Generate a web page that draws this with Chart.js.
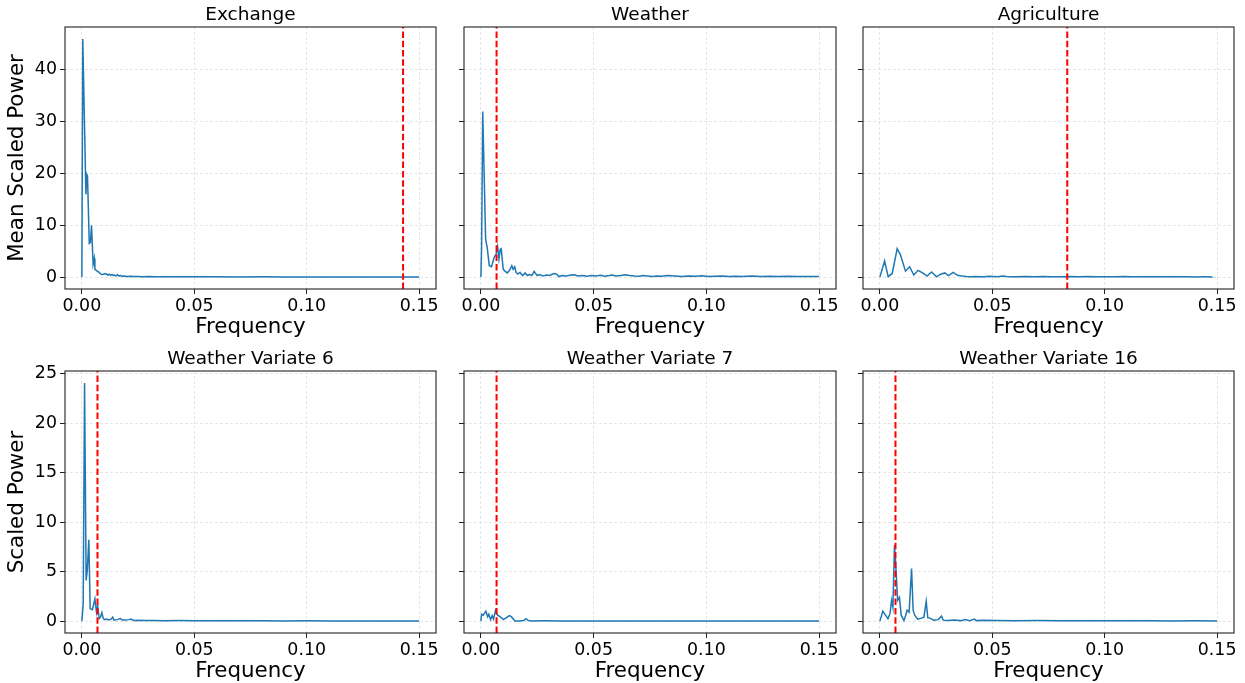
<!DOCTYPE html>
<html>
<head>
<meta charset="utf-8">
<script src="https://cdn.jsdelivr.net/npm/chart.js@4.4.1/dist/chart.umd.min.js"></script>
<style>
  html, body { margin: 0; padding: 0; background: #fff; overflow: hidden; }
  #fig { position: relative; width: 1245px; height: 683px; }
  #fig canvas { position: absolute; }
</style>
</head>
<body>
<div id="fig"></div>
<script>
const titles = ['Exchange', 'Weather', 'Agriculture', 'Weather Variate 6', 'Weather Variate 7', 'Weather Variate 16'];
const yLabels = ['Mean Scaled Power', 'Scaled Power'];
const cutoffs = [0.142857, 0.006944, 0.083333, 0.006944, 0.006944, 0.006944];
const xTicks = [0, 0.05, 0.10, 0.15];
const yTicksTop = [0, 10, 20, 30, 40];
const yTicksBottom = [0, 5, 10, 15, 20, 25];

const exchangeFreq = [0, 0.0004, 0.0018, 0.0022, 0.0025, 0.0033, 0.0038, 0.0043, 0.0050, 0.0055, 0.0058, 0.0064,
  0.0070, 0.0077, 0.0083, 0.0089, 0.0096, 0.0103, 0.0110, 0.0116, 0.0122, 0.0128, 0.0134, 0.0140, 0.0146,
  0.0152, 0.0159, 0.0166, 0.0173, 0.0180, 0.0190, 0.0200, 0.0215, 0.0230, 0.0250, 0.0270, 0.0300, 0.0330,
  0.0360, 0.0400, 0.0450, 0.0500, 0.0550, 0.0600, 0.0700, 0.0800, 0.0900, 0.1000, 0.1100, 0.1200, 0.1300,
  0.1400, 0.1500];
const exchangePower = [0, 46.0, 16.0, 19.8, 19.5, 6.5, 6.7, 10.0, 2.5, 3.6, 1.5, 1.3,
  1.1, 0.9, 0.6, 0.5, 0.55, 0.7, 0.55, 0.4, 0.55, 0.35, 0.5, 0.3, 0.4,
  0.25, 0.45, 0.2, 0.3, 0.15, 0.2, 0.12, 0.15, 0.1, 0.12, 0.08, 0.1, 0.07,
  0.08, 0.06, 0.07, 0.05, 0.06, 0.05, 0.04, 0.05, 0.04, 0.04, 0.03, 0.04, 0.03,
  0.03, 0.03];

const weatherFreq = [0, 0.0003, 0.0008, 0.0021, 0.0028, 0.0037, 0.0047, 0.0059, 0.0067, 0.0074, 0.0080, 0.0086,
  0.0090, 0.0099, 0.0108, 0.0117, 0.0127, 0.0137, 0.0143, 0.0150, 0.0156, 0.0163, 0.0174, 0.0185, 0.0196,
  0.0206, 0.0216, 0.0226, 0.0236, 0.0241, 0.0250, 0.0262, 0.0275, 0.0290, 0.0305, 0.0318, 0.0330, 0.0338,
  0.0345, 0.0360, 0.0380, 0.0400, 0.0415, 0.0430, 0.0450, 0.0470, 0.0490, 0.0510, 0.0530, 0.0550, 0.0570,
  0.0580, 0.0600, 0.0620, 0.0640, 0.0660, 0.0680, 0.0700, 0.0720, 0.0740, 0.0760, 0.0780, 0.0800, 0.0830,
  0.0860, 0.0890, 0.0920, 0.0950, 0.0980, 0.1010, 0.1040, 0.1070, 0.1100, 0.1130, 0.1160, 0.1200, 0.1240,
  0.1280, 0.1320, 0.1360, 0.1400, 0.1450, 0.1500];
const weatherPower = [0, 5.7, 32.0, 7.3, 5.7, 2.2, 2.0, 3.8, 4.4, 5.9, 3.5, 5.4,
  5.5, 1.5, 1.1, 0.8, 1.3, 2.2, 1.5, 2.0, 0.9, 0.6, 0.9, 0.3, 0.8,
  0.3, 0.5, 0.3, 1.1, 0.8, 0.3, 0.5, 0.2, 0.4, 0.3, 0.6, 0.7, 0.5,
  0.1, 0.3, 0.2, 0.4, 0.45, 0.2, 0.3, 0.15, 0.3, 0.2, 0.35, 0.15, 0.3,
  0.4, 0.2, 0.3, 0.45, 0.3, 0.2, 0.15, 0.3, 0.2, 0.1, 0.2, 0.15, 0.3,
  0.2, 0.1, 0.2, 0.15, 0.25, 0.1, 0.15, 0.2, 0.1, 0.15, 0.1, 0.2, 0.1,
  0.15, 0.1, 0.15, 0.1, 0.12, 0.1];

const agricultureFreq = [0, 0.0021, 0.0037, 0.0055, 0.0077, 0.0092, 0.0114, 0.0132, 0.0151, 0.0170, 0.0190,
  0.0210, 0.0230, 0.0252, 0.0270, 0.0289, 0.0305, 0.0326, 0.0345, 0.0365, 0.0385, 0.0405, 0.0425, 0.0445,
  0.0465, 0.0485, 0.0505, 0.0525, 0.0545, 0.0565, 0.0585, 0.0605, 0.0645, 0.0685, 0.0725, 0.0765, 0.0805,
  0.0845, 0.0885, 0.0925, 0.0965, 0.1005, 0.1045, 0.1085, 0.1125, 0.1165, 0.1205, 0.1245, 0.1285, 0.1325,
  0.1365, 0.1405, 0.1445, 0.1480];
const agriculturePower = [0, 3.1, 0.1, 0.7, 5.5, 4.25, 1.15, 2.0, 0.4, 1.3, 0.8,
  0.2, 1.0, 0.05, 0.55, 0.8, 0.3, 0.9, 0.35, 0.2, 0.1, 0.08, 0.1, 0.05,
  0.08, 0.15, 0.1, 0.05, 0.2, 0.1, 0.08, 0.05, 0.12, 0.06, 0.1, 0.05, 0.08,
  0.12, 0.05, 0.1, 0.06, 0.08, 0.05, 0.1, 0.06, 0.05, 0.08, 0.05, 0.06, 0.05,
  0.07, 0.04, 0.05, 0.04];

const variate6Freq = [0, 0.0006, 0.0012, 0.0019, 0.0024, 0.0031, 0.0037, 0.0047, 0.0058, 0.0065, 0.0070,
  0.0077, 0.0083, 0.0089, 0.0095, 0.0100, 0.0110, 0.0120, 0.0130, 0.0137, 0.0143, 0.0157, 0.0171, 0.0180,
  0.0195, 0.0210, 0.0218, 0.0230, 0.0250, 0.0280, 0.0320, 0.0370, 0.0430, 0.0500, 0.0600, 0.0700, 0.0800,
  0.0900, 0.1000, 0.1100, 0.1200, 0.1300, 0.1400, 0.1500];
const variate6Power = [0, 1.75, 24.05, 4.1, 5.1, 8.2, 1.25, 1.15, 2.25, 0.9, 1.6,
  0.25, 0.4, 0.85, 0.3, 0.15, 0.2, 0.12, 0.2, 0.4, 0.1, 0.15, 0.25, 0.1,
  0.1, 0.15, 0.2, 0.06, 0.08, 0.05, 0.06, 0.04, 0.05, 0.03, 0.04, 0.03, 0.03,
  0.02, 0.03, 0.02, 0.02, 0.02, 0.02, 0.02];

const variate7Freq = [0, 0.0003, 0.0010, 0.0016, 0.0022, 0.0030, 0.0035, 0.0043, 0.0050, 0.0056, 0.0065,
  0.0074, 0.0085, 0.0100, 0.0113, 0.0126, 0.0135, 0.0151, 0.0170, 0.0190, 0.0200, 0.0210, 0.0230, 0.0280,
  0.0350, 0.0450, 0.0550, 0.0700, 0.0850, 0.1000, 0.1150, 0.1300, 0.1500];
const variate7Power = [0, 0.7, 0.6, 0.8, 1.0, 0.45, 0.7, 0.15, 0.55, 0.2, 1.1,
  0.6, 0.45, 0.15, 0.35, 0.55, 0.45, 0.02, 0.02, 0.05, 0.25, 0.05, 0.02, 0.03,
  0.02, 0.02, 0.01, 0.02, 0.01, 0.01, 0.01, 0.01, 0.01];

const variate16Freq = [0, 0.0013, 0.0025, 0.0036, 0.0045, 0.0052, 0.0058, 0.0065, 0.0072, 0.0079, 0.0087,
  0.0095, 0.0107, 0.0115, 0.0121, 0.0130, 0.0141, 0.0148, 0.0155, 0.0168, 0.0185, 0.0196, 0.0206, 0.0213,
  0.0222, 0.0240, 0.0260, 0.0274, 0.0282, 0.0300, 0.0330, 0.0360, 0.0380, 0.0400, 0.0420, 0.0430, 0.0460,
  0.0520, 0.0600, 0.0700, 0.0800, 0.0900, 0.1000, 0.1100, 0.1200, 0.1300, 0.1400, 0.1500];
const variate16Power = [0, 1.0, 0.6, 0.25, 0.75, 2.1, 1.4, 7.65, 5.1, 2.1, 2.4,
  0.6, 0.05, 0.6, 1.1, 0.9, 5.3, 1.1, 0.6, 0.2, 0.3, 0.4, 2.0, 0.35,
  0.3, 0.1, 0.15, 0.5, 0.1, 0.05, 0.12, 0.05, 0.15, 0.05, 0.2, 0.05, 0.08,
  0.05, 0.04, 0.05, 0.03, 0.04, 0.03, 0.03, 0.03, 0.02, 0.03, 0.02];

const freqs = [exchangeFreq, weatherFreq, agricultureFreq, variate6Freq, variate7Freq, variate16Freq];
const powers = [exchangePower, weatherPower, agriculturePower, variate6Power, variate7Power, variate16Power];

// axis limits per row (matplotlib 5% margins)
const yLimits = [[-2.3, 48.3], [-1.2, 25.25]];
const xLimits = [-0.0075, 0.1575];

// plot frames in page pixels
const frameLefts = [65, 464, 863];
const frameRights = [436, 836, 1234];
const frameTops = [27, 371];
const font = 'DejaVu Sans';

const framePlugin = {
    id: 'frame',
    afterDraw(chart) {
        const { ctx, chartArea: a } = chart;
        ctx.save();
        ctx.strokeStyle = '#222';
        ctx.lineWidth = 1.1;
        ctx.strokeRect(a.left, a.top, a.right - a.left, a.bottom - a.top);
        ctx.restore();
    }
};

const fig = document.getElementById('fig');

for (let i = 0; i < 6; i++) {
    const row = Math.floor(i / 3);
    const col = i % 3;
    const yAxisWidth = col === 0 ? 65 : 12;
    const left = frameLefts[col] - yAxisWidth;
    const top = frameTops[row] - 27;
    const width = frameRights[col] - left + 9;
    const height = 345;

    const canvas = document.createElement('canvas');
    canvas.width = width;
    canvas.height = height;
    canvas.style.left = left + 'px';
    canvas.style.top = top + 'px';
    canvas.style.width = width + 'px';
    canvas.style.height = height + 'px';
    fig.appendChild(canvas);

    const yTicks = row === 0 ? yTicksTop : yTicksBottom;
    const [yMin, yMax] = yLimits[row];
    const points = freqs[i].map((f, k) => ({ x: f, y: powers[i][k] }));

    new Chart(canvas.getContext('2d'), {
        type: 'line',
        data: {
            datasets: [{
                data: [{ x: cutoffs[i], y: yMin }, { x: cutoffs[i], y: yMax }],
                borderColor: '#ff0000',
                borderWidth: 2,
                borderDash: [6.5, 2.8],
                pointRadius: 0,
                order: 0
            }, {
                data: points,
                borderColor: '#1f77b4',
                borderWidth: 1.5,
                pointRadius: 0,
                tension: 0,
                order: 1
            }]
        },
        options: {
            responsive: false,
            animation: false,
            layout: { padding: { left: 0, right: 9, top: 0, bottom: 0 } },
            plugins: {
                legend: { display: false },
                tooltip: { enabled: false },
                title: {
                    display: true,
                    fullSize: false,
                    text: titles[i],
                    color: '#000',
                    font: { family: font, size: 18.5, weight: 'normal', lineHeight: 1.2 },
                    padding: { top: 3.8, bottom: 1 }
                }
            },
            scales: {
                x: {
                    type: 'linear',
                    min: xLimits[0],
                    max: xLimits[1],
                    afterBuildTicks: s => { s.ticks = xTicks.map(v => ({ value: v })); },
                    afterFit: s => { s.height = 56; },
                    ticks: {
                        color: '#000',
                        font: { family: font, size: 17.4 },
                        padding: 2,
                        maxRotation: 0,
                        callback: v => v.toFixed(2)
                    },
                    grid: { color: '#e6e6e6', tickColor: '#222', tickLength: 5, tickWidth: 1 },
                    border: { display: false, dash: [3, 2] },
                    title: {
                        display: true,
                        text: 'Frequency',
                        color: '#000',
                        font: { family: font, size: 21.4 },
                        padding: { top: 0, bottom: 4.5 }
                    }
                },
                y: {
                    type: 'linear',
                    min: yMin,
                    max: yMax,
                    afterBuildTicks: s => { s.ticks = yTicks.map(v => ({ value: v })); },
                    afterFit: s => { s.width = yAxisWidth; },
                    ticks: {
                        display: col === 0,
                        color: '#000',
                        font: { family: font, size: 17.4 },
                        padding: 3,
                        callback: v => String(v)
                    },
                    grid: { color: '#e6e6e6', tickColor: '#222', tickLength: 5, tickWidth: 1 },
                    border: { display: false, dash: [3, 2] },
                    title: {
                        display: col === 0,
                        text: yLabels[row],
                        color: '#000',
                        font: { family: font, size: 21.4 },
                        padding: { top: 5, bottom: 0 }
                    }
                }
            }
        },
        plugins: [framePlugin]
    });
}
</script>
</body>
</html>
